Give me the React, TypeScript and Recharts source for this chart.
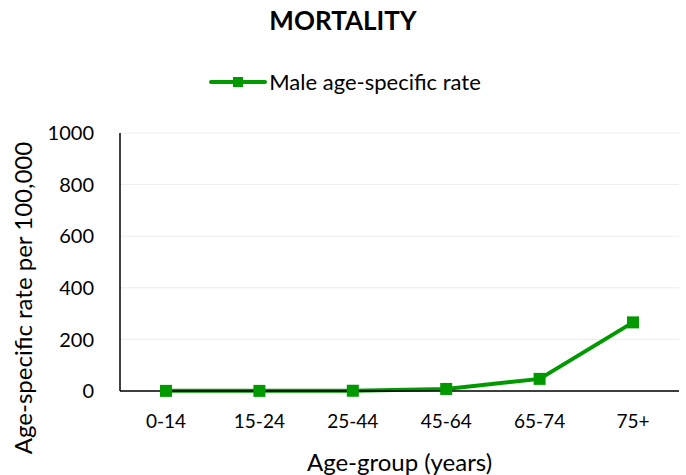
import { CartesianGrid, Label, Line, LineChart, XAxis, YAxis } from "recharts"

const ageGroups = ["0-14", "15-24", "25-44", "45-64", "65-74", "75+"]
const maleRate = [0.5, 0.5, 1, 8, 47, 266]
const yTicks = [0, 200, 400, 600, 800, 1000]

const data = ageGroups.map((group, i) => ({ group, rate: maleRate[i] }))

const GREEN = "#009a00"
const FONT = "Lato, 'Open Sans', sans-serif"

function SquareDot(props: any) {
  const { cx, cy } = props
  if (cx == null || cy == null) return null
  return <rect x={cx - 6} y={cy - 6} width={12} height={12} fill={GREEN} />
}

function YTitle(props: any) {
  const { viewBox } = props
  const cy = viewBox.y + viewBox.height / 2 + 36
  return (
    <text
      x={22}
      y={cy}
      transform={`rotate(-90, 22, ${cy})`}
      textAnchor="middle"
      dominantBaseline="central"
      fill="#000"
      fontSize={24}
      fontFamily={FONT}
    >
      Age-specific rate per 100,000
    </text>
  )
}

function XTitle(props: any) {
  const { viewBox } = props
  const cx = viewBox.x + viewBox.width / 2
  return (
    <text x={cx} y={461} textAnchor="middle" dominantBaseline="central" fill="#000" fontSize={24} fontFamily={FONT}>
      Age-group (years)
    </text>
  )
}

export default function App() {
  return (
    <div style={{ position: "absolute", left: 0, top: 0, width: 686, height: 475, background: "#fff", fontFamily: FONT }}>
      <div style={{ position: "absolute", top: 4, left: 0, width: 686, textAlign: "center", fontWeight: 700, fontSize: 26, color: "#000" }}>
        MORTALITY
      </div>
      <div style={{ position: "absolute", top: 68, left: 0, width: 686, display: "flex", justifyContent: "center", alignItems: "center", fontSize: 22, color: "#000" }}>
        <svg width={58} height={14} style={{ marginRight: 2, marginLeft: 4 }}>
          <line x1={2} y1={7} x2={56} y2={7} stroke={GREEN} strokeWidth={4} strokeLinecap="round" />
          <rect x={24} y={2} width={10} height={10} fill={GREEN} />
        </svg>
        <span>Male age-specific rate</span>
      </div>
      <LineChart width={686} height={475} data={data} margin={{ top: 133, right: 7, bottom: 0, left: 0 }}>
        <CartesianGrid vertical={false} stroke="#ececec" />
        <XAxis
          dataKey="group"
          height={84}
          padding={{ left: 46, right: 46 }}
          tickLine={false}
          axisLine={{ stroke: "#000", strokeWidth: 1.5 }}
          tick={{ fill: "#000", fontSize: 19, fontFamily: FONT }}
          tickMargin={18}
        >
          <Label content={<XTitle />} />
        </XAxis>
        <YAxis
          width={120}
          domain={[0, 1000]}
          ticks={yTicks}
          tickLine={false}
          axisLine={{ stroke: "#000", strokeWidth: 1.5 }}
          tick={{ fill: "#000", fontSize: 20, fontFamily: FONT }}
          tickMargin={20}
        >
          <Label content={<YTitle />} />
        </YAxis>
        <Line
          type="linear"
          dataKey="rate"
          stroke={GREEN}
          strokeWidth={4}
          dot={<SquareDot />}
          activeDot={false}
          isAnimationActive={false}
        />
      </LineChart>
    </div>
  )
}
